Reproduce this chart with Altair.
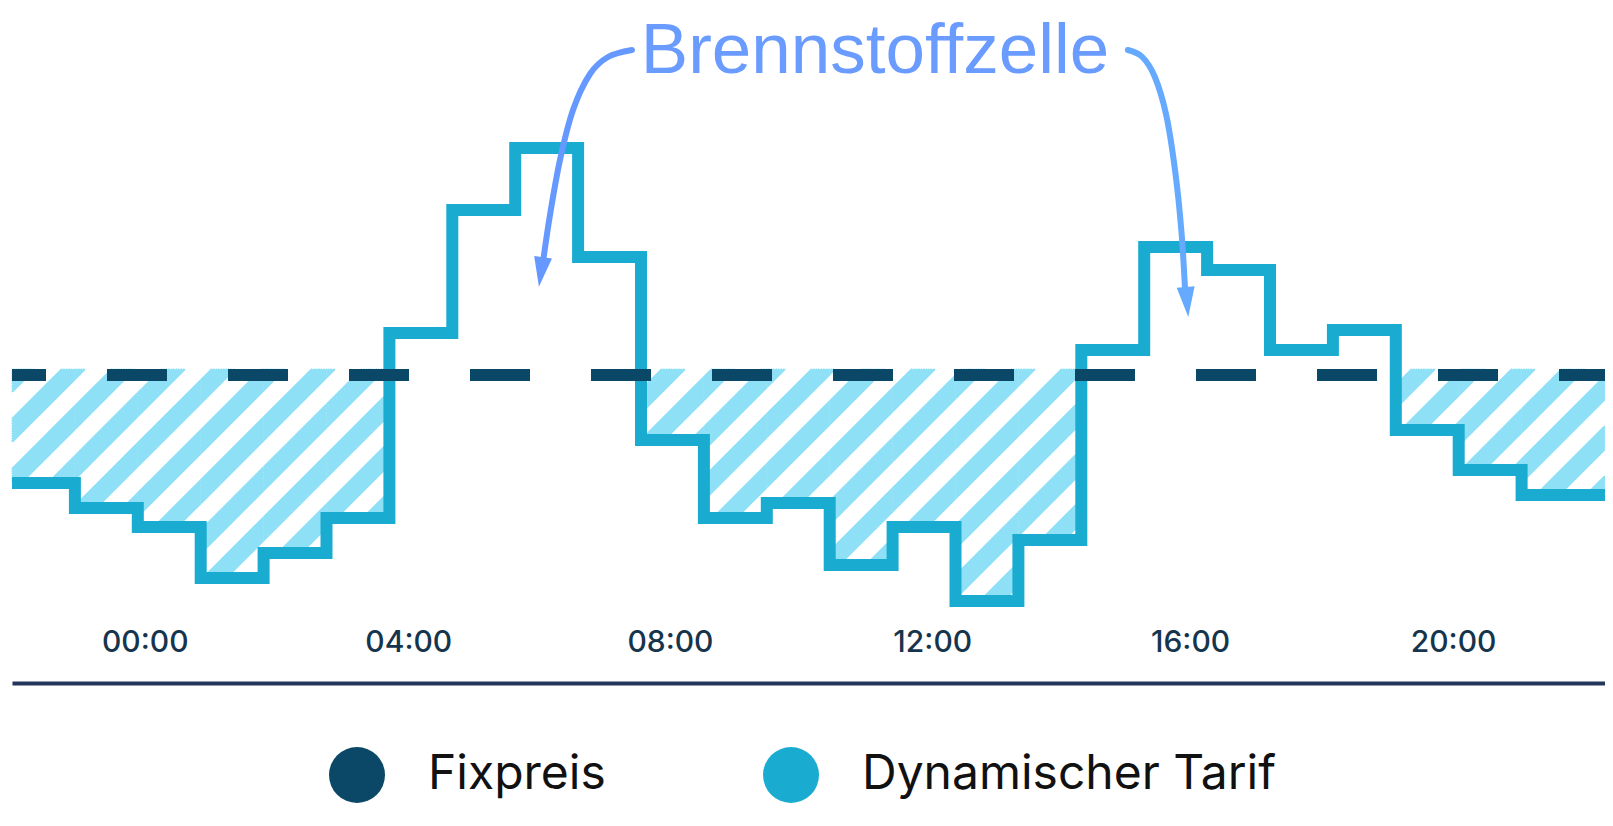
import altair as alt
import pandas as pd

# ---------------- data ----------------
tariff = [20.0, 17.5, 15.6, 10.5, 13.0, 16.5, 35.0, 47.3, 53.5, 42.6, 24.3, 16.5,
          18.0, 11.8, 15.6, 8.2, 14.3, 33.3, 43.6, 41.3, 33.3, 35.3, 25.3, 21.3, 18.8]
fixed_price = 30.8
tick_pos = [2.11, 6.30, 10.46, 14.63, 18.73, 22.91]
tick_labels = ["00:00", "04:00", "08:00", "12:00", "16:00", "20:00"]
series = ["Fixpreis", "Dynamischer Tarif"]
series_colors = ["#0B4868", "#1AACD0"]
annotation_text = "Brennstoffzelle"
annotation_pos = [13.72, 61.0]
arrow_left_x = [9.857, 9.475, 9.189, 8.919, 8.712, 8.553, 8.442]
arrow_left_y = [63.3, 62.6, 60.9, 57.3, 52.3, 46.8, 42.1]
arrow_left_head = [8.41, 41.1]
arrow_right_x = [17.74, 17.97, 18.17, 18.35, 18.49, 18.59, 18.65]
arrow_right_y = [63.3, 62.6, 60.6, 56.8, 51.3, 45.3, 39.3]
arrow_right_head = [18.68, 38.1]

# ---------------- layout ----------------
PLOT_W, PLOT_H = 1593, 675
PX_SLOT, PX_UNIT = 62.9, 10.0
XMAX = PLOT_W / PX_SLOT
YMAX = PLOT_H / PX_UNIT

step_df = pd.DataFrame({
    "slot": list(range(len(tariff))) + [XMAX],
    "price": tariff + [tariff[-1]],
})

# hatch: thin diagonal rules clipped to each column below the fixed price
PERIOD, BAND, PHASE, LSTEP = 50.0, 25.0, 10.0, 2.5
top_Y = (YMAX - fixed_price) * PX_UNIT - 6
rows = []
cs = []
b = PHASE - PERIOD
while b < PLOT_W + PLOT_H + PERIOD:
    k = 0
    while k * LSTEP < BAND:
        cs.append(b + LSTEP / 2 + k * LSTEP)
        k += 1
    b += PERIOD
for i, v in enumerate(tariff):
    if v >= fixed_price:
        continue
    X0 = i * PX_SLOT
    X1 = PLOT_W if i == len(tariff) - 1 else (i + 1) * PX_SLOT
    Ybot = (YMAX - v) * PX_UNIT
    for c in cs:
        xa = max(X0, c - Ybot)
        xb = min(X1, c - top_Y)
        if xb - xa > 0.05:
            rows.append({
                "x": xa / PX_SLOT, "y": YMAX - (c - xa) / PX_UNIT,
                "x2": xb / PX_SLOT, "y2": YMAX - (c - xb) / PX_UNIT,
            })
hatch_df = pd.DataFrame(rows)

label_expr = ""
for p, l in zip(tick_pos, tick_labels):
    label_expr += f"datum.value == {p} ? '{l}' : "
label_expr += "''"

x_scale = alt.Scale(domain=[0, XMAX], nice=False, zero=False)
y_scale = alt.Scale(domain=[0, YMAX], nice=False, zero=False)

x_axis = alt.Axis(values=tick_pos, labelExpr=label_expr, domain=True,
                  domainColor="#24365A", domainWidth=4, ticks=False, grid=False,
                  labelPadding=-41, labelBaseline="middle", labelFont="Inter",
                  labelFontSize=30, labelFontWeight=500, labelColor="#16354D",
                  labelFlush=False, labelOverlap=False, title=None)

hatch = alt.Chart(hatch_df).mark_rule(color="#8EE0F6", strokeWidth=2.4, strokeCap="butt").encode(
    x=alt.X("x:Q", scale=x_scale, axis=x_axis),
    y=alt.Y("y:Q", scale=y_scale, axis=None),
    x2="x2:Q", y2="y2:Q",
)

step = alt.Chart(step_df).mark_line(interpolate="step-after", color=series_colors[1],
                                    strokeWidth=12, strokeJoin="miter", strokeCap="butt").encode(
    x="slot:Q", y="price:Q")

dashed = alt.Chart(pd.DataFrame({"price": [fixed_price]})).mark_rule(
    color=series_colors[0], strokeWidth=12, strokeDash=[60, 61], strokeDashOffset=14
).encode(y="price:Q")


def arrow(xs, ys, head, color, angle):
    df = pd.DataFrame({"x": xs, "y": ys, "i": list(range(len(xs)))})
    line = alt.Chart(df).mark_line(interpolate="cardinal", color=color, strokeWidth=6,
                                   strokeCap="round").encode(x="x:Q", y="y:Q", order="i:Q")
    hd = alt.Chart(pd.DataFrame({"x": [head[0]], "y": [head[1]]})).mark_point(
        shape="M-0.6,-1L0.6,-1L0,1Z", filled=True, size=900, color=color, opacity=1,
        angle=angle).encode(x="x:Q", y="y:Q")
    return line + hd


arrow_l = arrow(arrow_left_x, arrow_left_y, arrow_left_head, "#6699FF", 8)
arrow_r = arrow(arrow_right_x, arrow_right_y, arrow_right_head, "#66AAFF", 355)

text = alt.Chart(pd.DataFrame({"x": [annotation_pos[0]], "y": [annotation_pos[1]],
                               "t": [annotation_text]})).mark_text(
    font="Liberation Sans", fontSize=71, color="#6A9BFF", align="center", baseline="alphabetic"
).encode(x="x:Q", y="y:Q", text="t:N")

legend_layer = alt.Chart(pd.DataFrame({"series": series, "x": [0, 0], "y": [0, 0]})).mark_point(
    filled=True, opacity=0, size=10).encode(
    x="x:Q", y="y:Q",
    color=alt.Color("series:N", sort=series,
                    scale=alt.Scale(domain=series, range=series_colors),
                    legend=alt.Legend(title=None, orient="none", legendX=317, legendY=739,
                                      direction="horizontal", symbolType="circle",
                                      symbolSize=3136, symbolOpacity=1, symbolStrokeWidth=0,
                                      labelFont="Inter", labelFontSize=48, labelColor="#111111",
                                      labelOffset=43, columnPadding=157, padding=0,
                                      labelLimit=1000)))

chart = alt.layer(hatch, step, dashed, arrow_l, arrow_r, text, legend_layer).properties(
    width=PLOT_W, height=PLOT_H,
    padding={"left": 4, "top": 0, "right": 0, "bottom": 135},
    autosize=alt.AutoSizeParams(type="none"),
).configure_view(stroke=None)

chart.save("out.html", embed_options={"renderer": "svg", "actions": False})
